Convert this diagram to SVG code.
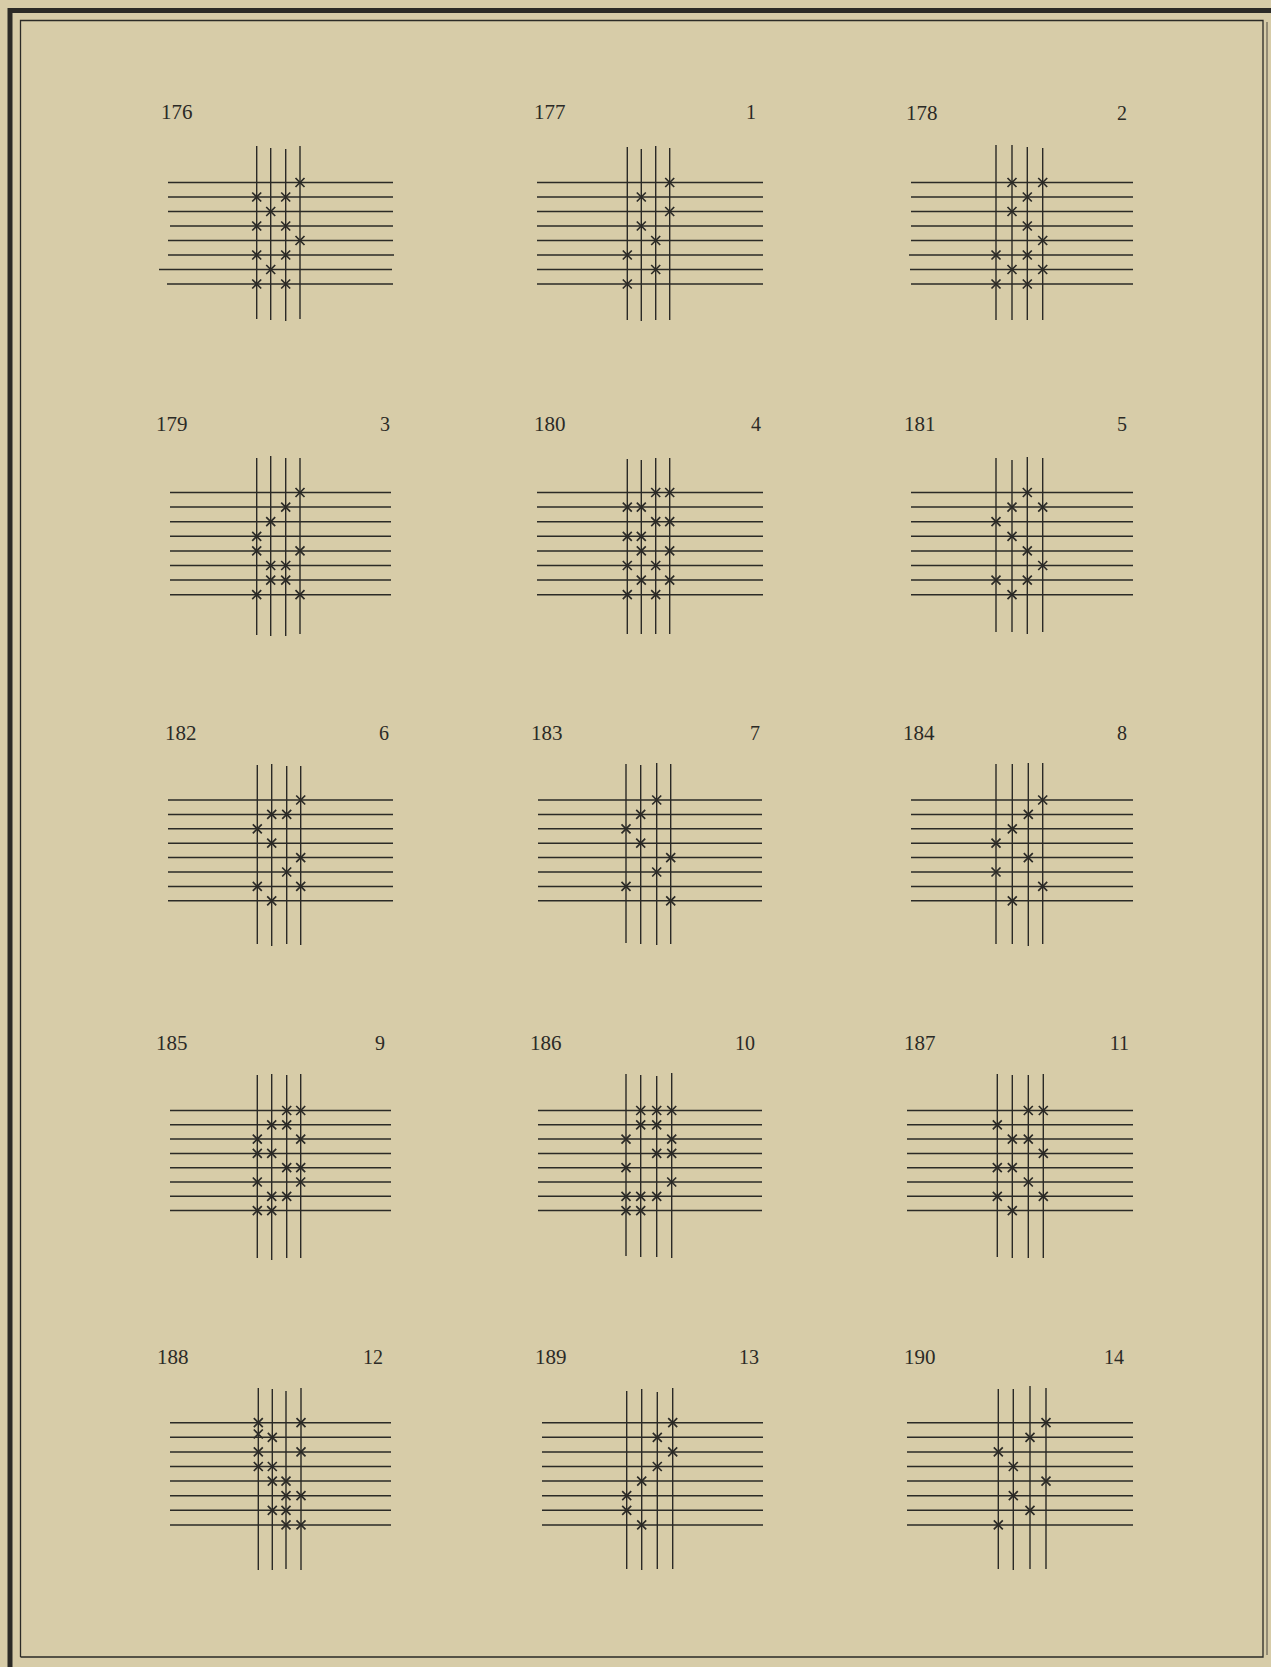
<svg xmlns="http://www.w3.org/2000/svg" xmlns:xlink="http://www.w3.org/1999/xlink" width="1271" height="1667" viewBox="0 0 1271 1667">
<style>
.bg{fill:#d7cca8}
.ln{stroke:#2b2a26;stroke-width:1.5;fill:none}
.vl{stroke:#2b2a26;stroke-width:1.4;fill:none}
.lbl{font-family:"Liberation Serif","DejaVu Serif",serif;font-size:21px;fill:#2b2a26}
.num{font-family:"Liberation Serif","DejaVu Serif",serif;font-size:20px;fill:#2b2a26;text-anchor:end}
.frame{stroke:#2b2a26;fill:none}
</style>
<defs>
<path id="x" d="M-4.5,-4.5L4.5,4.5M-4.5,4.5L4.5,-4.5" stroke="#2b2a26" stroke-width="1.7" fill="none"/>
</defs>
<rect class="bg" x="0" y="0" width="1271" height="1667"/>
<g id="frame">
<path class="frame" stroke-width="5" d="M10,1667V10.5H1271"/>
<path class="frame" stroke-width="1.3" d="M20.5,1657V20.5H1263V1657H20.5"/>
<path class="frame" stroke-width="0.8" d="M1267,22V1655"/>
</g>

<!-- Row 1 -->
<g id="p176">
<text class="lbl" x="161" y="119">176</text>
<path class="ln" d="M168,182.5H393M168,197H393M168,211.5H393M170,226H393M168,240.5H393M168,255H394M159,269.5H392M167,284H393"/>
<path class="vl" d="M256.7,146V319M270.7,148V320M285.7,149V321M300,146V319"/>
<use href="#x" x="300" y="182.5"/><use href="#x" x="256.7" y="197"/><use href="#x" x="285.7" y="197"/><use href="#x" x="270.7" y="211.5"/><use href="#x" x="256.7" y="226"/><use href="#x" x="285.7" y="226"/><use href="#x" x="300" y="240.5"/><use href="#x" x="256.7" y="255"/><use href="#x" x="285.7" y="255"/><use href="#x" x="270.7" y="269.5"/><use href="#x" x="256.7" y="284"/><use href="#x" x="285.7" y="284"/>
</g>
<g id="p177">
<text class="lbl" x="534" y="119">177</text>
<text class="num" x="756" y="119">1</text>
<path class="ln" d="M537,182.5H763M537,197H763M537,211.5H763M537,226H763M537,240.5H763M537,255H763M537,269.5H763M537,284H763"/>
<path class="vl" d="M627.3,147V320M641.3,149V321M655.7,146V320M669.7,148V320"/>
<use href="#x" x="669.7" y="182.5"/><use href="#x" x="641.3" y="197"/><use href="#x" x="669.7" y="211.5"/><use href="#x" x="641.3" y="226"/><use href="#x" x="655.7" y="240.5"/><use href="#x" x="627.3" y="255"/><use href="#x" x="655.7" y="269.5"/><use href="#x" x="627.3" y="284"/>
</g>
<g id="p178">
<text class="lbl" x="906" y="120">178</text>
<text class="num" x="1127" y="120">2</text>
<path class="ln" d="M911,182.5H1133M911,197H1133M911,211.5H1133M911,226H1133M911,240.5H1133M909,255H1133M910,269.5H1133M911,284H1133"/>
<path class="vl" d="M996,145V320M1012,145V320M1027.3,147V320M1042.7,148V320"/>
<use href="#x" x="1012" y="182.5"/><use href="#x" x="1042.7" y="182.5"/><use href="#x" x="1027.3" y="197"/><use href="#x" x="1012" y="211.5"/><use href="#x" x="1027.3" y="226"/><use href="#x" x="1042.7" y="240.5"/><use href="#x" x="996" y="255"/><use href="#x" x="1027.3" y="255"/><use href="#x" x="1012" y="269.5"/><use href="#x" x="1042.7" y="269.5"/><use href="#x" x="996" y="284"/><use href="#x" x="1027.3" y="284"/>
</g>

<!-- Row 2 -->
<g id="p179">
<text class="lbl" x="156" y="431">179</text>
<text class="num" x="390" y="431">3</text>
<path class="ln" d="M170,492.5H391M170,507.1H391M170,521.7H391M170,536.3H391M170,550.9H391M170,565.5H391M170,580.1H391M170,594.7H391"/>
<path class="vl" d="M256.7,458V635M270.7,456V636M285.7,458V636M300,458V634"/>
<use href="#x" x="300" y="492.5"/><use href="#x" x="285.7" y="507.1"/><use href="#x" x="270.7" y="521.7"/><use href="#x" x="256.7" y="536.3"/><use href="#x" x="256.7" y="550.9"/><use href="#x" x="300" y="550.9"/><use href="#x" x="270.7" y="565.5"/><use href="#x" x="285.7" y="565.5"/><use href="#x" x="270.7" y="580.1"/><use href="#x" x="285.7" y="580.1"/><use href="#x" x="256.7" y="594.7"/><use href="#x" x="300" y="594.7"/>
</g>
<g id="p180">
<text class="lbl" x="534" y="431">180</text>
<text class="num" x="761" y="431">4</text>
<path class="ln" d="M537,492.5H763M537,507.1H763M537,521.7H763M537,536.3H763M537,550.9H763M537,565.5H763M537,580.1H763M537,594.7H763"/>
<path class="vl" d="M627.3,459V634M641.3,460V634M655.7,458V634M669.7,458V634"/>
<use href="#x" x="655.7" y="492.5"/><use href="#x" x="669.7" y="492.5"/><use href="#x" x="627.3" y="507.1"/><use href="#x" x="641.3" y="507.1"/><use href="#x" x="655.7" y="521.7"/><use href="#x" x="669.7" y="521.7"/><use href="#x" x="627.3" y="536.3"/><use href="#x" x="641.3" y="536.3"/><use href="#x" x="641.3" y="550.9"/><use href="#x" x="669.7" y="550.9"/><use href="#x" x="627.3" y="565.5"/><use href="#x" x="655.7" y="565.5"/><use href="#x" x="641.3" y="580.1"/><use href="#x" x="669.7" y="580.1"/><use href="#x" x="627.3" y="594.7"/><use href="#x" x="655.7" y="594.7"/>
</g>
<g id="p181">
<text class="lbl" x="904" y="431">181</text>
<text class="num" x="1127" y="431">5</text>
<path class="ln" d="M911,492.5H1133M911,507.1H1133M911,521.7H1133M911,536.3H1133M911,550.9H1133M911,565.5H1133M911,580.1H1133M911,594.7H1133"/>
<path class="vl" d="M996,458V632M1012,460V632M1027.3,457V634M1042.7,458V632"/>
<use href="#x" x="1027.3" y="492.5"/><use href="#x" x="1012" y="507.1"/><use href="#x" x="1042.7" y="507.1"/><use href="#x" x="996" y="521.7"/><use href="#x" x="1012" y="536.3"/><use href="#x" x="1027.3" y="550.9"/><use href="#x" x="1042.7" y="565.5"/><use href="#x" x="996" y="580.1"/><use href="#x" x="1027.3" y="580.1"/><use href="#x" x="1012" y="594.7"/>
</g>

<!-- Row 3 -->
<g id="p182">
<text class="lbl" x="165" y="740">182</text>
<text class="num" x="389" y="740">6</text>
<path class="ln" d="M168,800H393M168,814.4H393M168,828.8H393M168,843.2H393M168,857.6H393M168,872H393M168,886.4H393M168,900.8H393"/>
<path class="vl" d="M257.3,765V944M271.7,764V946M286.7,766V944M300.7,766V945"/>
<use href="#x" x="300.7" y="800"/><use href="#x" x="271.7" y="814.4"/><use href="#x" x="286.7" y="814.4"/><use href="#x" x="257.3" y="828.8"/><use href="#x" x="271.7" y="843.2"/><use href="#x" x="300.7" y="857.6"/><use href="#x" x="286.7" y="872"/><use href="#x" x="257.3" y="886.4"/><use href="#x" x="300.7" y="886.4"/><use href="#x" x="271.7" y="900.8"/>
</g>
<g id="p183">
<text class="lbl" x="531" y="740">183</text>
<text class="num" x="760" y="740">7</text>
<path class="ln" d="M538,800H762M538,814.4H762M538,828.8H762M538,843.2H762M538,857.6H762M538,872H762M538,886.4H762M538,900.8H762"/>
<path class="vl" d="M626,764V943M640.7,765V944M656.7,763V945M670.7,764V944"/>
<use href="#x" x="656.7" y="800"/><use href="#x" x="640.7" y="814.4"/><use href="#x" x="626" y="828.8"/><use href="#x" x="640.7" y="843.2"/><use href="#x" x="670.7" y="857.6"/><use href="#x" x="656.7" y="872"/><use href="#x" x="626" y="886.4"/><use href="#x" x="670.7" y="900.8"/>
</g>
<g id="p184">
<text class="lbl" x="903" y="740">184</text>
<text class="num" x="1127" y="740">8</text>
<path class="ln" d="M911,800H1133M911,814.4H1133M911,828.8H1133M911,843.2H1133M911,857.6H1133M911,872H1133M911,886.4H1133M911,900.8H1133"/>
<path class="vl" d="M996,764V944M1012.3,764V944M1028.3,763V946M1042.7,763V944"/>
<use href="#x" x="1042.7" y="800"/><use href="#x" x="1028.3" y="814.4"/><use href="#x" x="1012.3" y="828.8"/><use href="#x" x="996" y="843.2"/><use href="#x" x="1028.3" y="857.6"/><use href="#x" x="996" y="872"/><use href="#x" x="1042.7" y="886.4"/><use href="#x" x="1012.3" y="900.8"/>
</g>

<!-- Row 4 -->
<g id="p185">
<text class="lbl" x="156" y="1050">185</text>
<text class="num" x="385" y="1050">9</text>
<path class="ln" d="M170,1110.5H391M170,1124.8H391M170,1139.1H391M170,1153.4H391M170,1167.7H391M170,1182H391M170,1196.3H391M170,1210.6H391"/>
<path class="vl" d="M257.3,1075V1258M271.7,1074V1260M286.7,1075V1258M300.7,1074V1258"/>
<use href="#x" x="286.7" y="1110.5"/><use href="#x" x="300.7" y="1110.5"/><use href="#x" x="271.7" y="1124.8"/><use href="#x" x="286.7" y="1124.8"/><use href="#x" x="257.3" y="1139.1"/><use href="#x" x="300.7" y="1139.1"/><use href="#x" x="257.3" y="1153.4"/><use href="#x" x="271.7" y="1153.4"/><use href="#x" x="286.7" y="1167.7"/><use href="#x" x="300.7" y="1167.7"/><use href="#x" x="257.3" y="1182"/><use href="#x" x="300.7" y="1182"/><use href="#x" x="271.7" y="1196.3"/><use href="#x" x="286.7" y="1196.3"/><use href="#x" x="257.3" y="1210.6"/><use href="#x" x="271.7" y="1210.6"/>
</g>
<g id="p186">
<text class="lbl" x="530" y="1050">186</text>
<text class="num" x="755" y="1050">10</text>
<path class="ln" d="M538,1110.5H762M538,1124.8H762M538,1139.1H762M538,1153.4H762M538,1167.7H762M538,1182H762M538,1196.3H762M538,1210.6H762"/>
<path class="vl" d="M626,1074V1256M640.7,1075V1257M656.7,1076V1257M671.7,1073V1258"/>
<use href="#x" x="640.7" y="1110.5"/><use href="#x" x="656.7" y="1110.5"/><use href="#x" x="671.7" y="1110.5"/><use href="#x" x="640.7" y="1124.8"/><use href="#x" x="656.7" y="1124.8"/><use href="#x" x="626" y="1139.1"/><use href="#x" x="671.7" y="1139.1"/><use href="#x" x="656.7" y="1153.4"/><use href="#x" x="671.7" y="1153.4"/><use href="#x" x="626" y="1167.7"/><use href="#x" x="671.7" y="1182"/><use href="#x" x="626" y="1196.3"/><use href="#x" x="640.7" y="1196.3"/><use href="#x" x="656.7" y="1196.3"/><use href="#x" x="626" y="1210.6"/><use href="#x" x="640.7" y="1210.6"/>
</g>
<g id="p187">
<text class="lbl" x="904" y="1050">187</text>
<text class="num" x="1129" y="1050">11</text>
<path class="ln" d="M907,1110.5H1133M907,1124.8H1133M907,1139.1H1133M907,1153.4H1133M907,1167.7H1133M907,1182H1133M907,1196.3H1133M907,1210.6H1133"/>
<path class="vl" d="M997.3,1074V1257M1012.3,1075V1258M1028.3,1075V1258M1043.3,1074V1258"/>
<use href="#x" x="1028.3" y="1110.5"/><use href="#x" x="1043.3" y="1110.5"/><use href="#x" x="997.3" y="1124.8"/><use href="#x" x="1012.3" y="1139.1"/><use href="#x" x="1028.3" y="1139.1"/><use href="#x" x="1043.3" y="1153.4"/><use href="#x" x="997.3" y="1167.7"/><use href="#x" x="1012.3" y="1167.7"/><use href="#x" x="1028.3" y="1182"/><use href="#x" x="997.3" y="1196.3"/><use href="#x" x="1043.3" y="1196.3"/><use href="#x" x="1012.3" y="1210.6"/>
</g>

<!-- Row 5 -->
<g id="p188">
<text class="lbl" x="157" y="1364">188</text>
<text class="num" x="383" y="1364">12</text>
<path class="ln" d="M170,1422.7H391M170,1437.3H391M170,1451.9H391M170,1466.5H391M170,1481.1H391M170,1495.7H391M170,1510.3H391M170,1524.9H391"/>
<path class="vl" d="M258.3,1388V1570M272.3,1389V1570M286,1391V1569M301,1388V1570"/>
<use href="#x" x="258.3" y="1422.7"/><use href="#x" x="301" y="1422.7"/><use href="#x" x="258.3" y="1434"/><use href="#x" x="272.3" y="1437.3"/><use href="#x" x="258.3" y="1451.9"/><use href="#x" x="301" y="1451.9"/><use href="#x" x="258.3" y="1466.5"/><use href="#x" x="272.3" y="1466.5"/><use href="#x" x="272.3" y="1481.1"/><use href="#x" x="286" y="1481.1"/><use href="#x" x="286" y="1495.7"/><use href="#x" x="301" y="1495.7"/><use href="#x" x="272.3" y="1510.3"/><use href="#x" x="286" y="1510.3"/><use href="#x" x="286" y="1524.9"/><use href="#x" x="301" y="1524.9"/>
</g>
<g id="p189">
<text class="lbl" x="535" y="1364">189</text>
<text class="num" x="759" y="1364">13</text>
<path class="ln" d="M542,1422.7H763M542,1437.3H763M542,1451.9H763M542,1466.5H763M542,1481.1H763M542,1495.7H763M542,1510.3H763M542,1524.9H763"/>
<path class="vl" d="M626.7,1391V1569M641.7,1389V1570M657.3,1392V1569M672.7,1388V1569"/>
<use href="#x" x="672.7" y="1422.7"/><use href="#x" x="657.3" y="1437.3"/><use href="#x" x="672.7" y="1451.9"/><use href="#x" x="657.3" y="1466.5"/><use href="#x" x="641.7" y="1481.1"/><use href="#x" x="626.7" y="1495.7"/><use href="#x" x="626.7" y="1510.3"/><use href="#x" x="641.7" y="1524.9"/>
</g>
<g id="p190">
<text class="lbl" x="904" y="1364">190</text>
<text class="num" x="1124" y="1364">14</text>
<path class="ln" d="M907,1422.7H1133M907,1437.3H1133M907,1451.9H1133M907,1466.5H1133M907,1481.1H1133M907,1495.7H1133M907,1510.3H1133M907,1524.9H1133"/>
<path class="vl" d="M998.3,1389V1569M1013.3,1389V1570M1030,1386V1569M1046,1388V1569"/>
<use href="#x" x="1046" y="1422.7"/><use href="#x" x="1030" y="1437.3"/><use href="#x" x="998.3" y="1451.9"/><use href="#x" x="1013.3" y="1466.5"/><use href="#x" x="1046" y="1481.1"/><use href="#x" x="1013.3" y="1495.7"/><use href="#x" x="1030" y="1510.3"/><use href="#x" x="998.3" y="1524.9"/>
</g>
<g id="connectors"/>
</svg>
